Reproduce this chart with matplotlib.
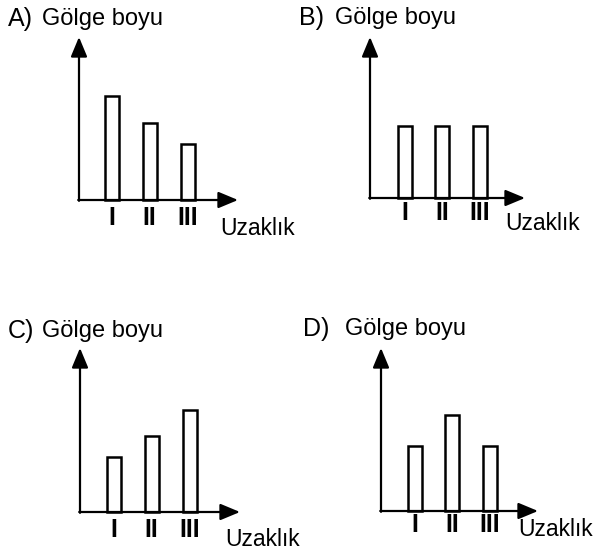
import matplotlib
matplotlib.use("Agg")
import matplotlib.pyplot as plt
import matplotlib.transforms as mtransforms

plt.rcParams['font.family'] = ['Liberation Sans', 'DejaVu Sans']

# data: shadow length (arbitrary units) for distances I, II, III
letters = ["A)", "B)", "C)", "D)"]
categories = ["I", "II", "III"]
heights_a = [104, 77, 56]
heights_b = [72, 72, 72]
heights_c = [55, 76, 102]
heights_d = [65, 96, 65]
ylabel = "Gölge boyu"
xlabel = "Uzaklık"

W, H = 595, 552
fig = plt.figure(figsize=(W / 100, H / 100), dpi=100)

# layout in pixels: origin x, origin y, arrow tip x, arrow tip y, first bar centre, spacing,
# numeral offset, letter x, title x, title y, xlabel x, xlabel y
panels = [
    (heights_a, 79, 200, 238, 37, 112, 37.75, 18, 8, 42, 19, 220, 228),
    (heights_b, 370, 198, 525, 37, 404.5, 37.5, 15, 299, 335, 18, 505, 223),
    (heights_c, 80, 512, 240, 348, 114, 37.75, 18, 8, 42, 331, 225, 540),
    (heights_d, 381, 511, 538, 348, 415, 37.5, 14, 303, 345, 329, 518, 529),
]

for letter, p in zip(letters, panels):
    (vals, ox, oy, xt, yt, c1, sp, noff, lx, tx, ty, ux, uy) = p
    ax = fig.add_axes([ox / W, 1 - oy / H, (xt - ox) / W, (oy - yt) / H])
    x0 = 1 - (c1 - ox) / sp
    ax.set_xlim(x0, x0 + (xt - ox) / sp)
    ax.set_ylim(0, oy - yt)
    ax.set_axis_off()
    pos = [1, 2, 3]
    ax.bar(pos, vals, width=14 / sp, facecolor='white', edgecolor='black',
           linewidth=1.8, clip_on=False, zorder=2)
    arrow = dict(arrowstyle='-|>,head_length=0.6,head_width=0.25', mutation_scale=20,
                 lw=1.6, color='black', shrinkA=0, shrinkB=0)
    ax.annotate("", xy=(0, 1), xytext=(0, -0.005), xycoords='axes fraction', arrowprops=arrow)
    ax.annotate("", xy=(1, 0), xytext=(-0.005, 0), xycoords='axes fraction', arrowprops=arrow)
    trans = mtransforms.blended_transform_factory(ax.transData, ax.transAxes)
    for x, c in zip(pos, categories):
        ax.text(x, -noff / (oy - yt), c, transform=trans, ha='center', va='center',
                fontsize=18, fontweight='bold')
    fig.text(lx / W, 1 - ty / H, letter, ha='left', va='center', fontsize=18)
    fig.text(tx / W, 1 - ty / H, ylabel, ha='left', va='center', fontsize=17)
    fig.text(ux / W, 1 - uy / H, xlabel, ha='left', va='center', fontsize=16.5)

fig.savefig("out.png", dpi=100, facecolor='white')
